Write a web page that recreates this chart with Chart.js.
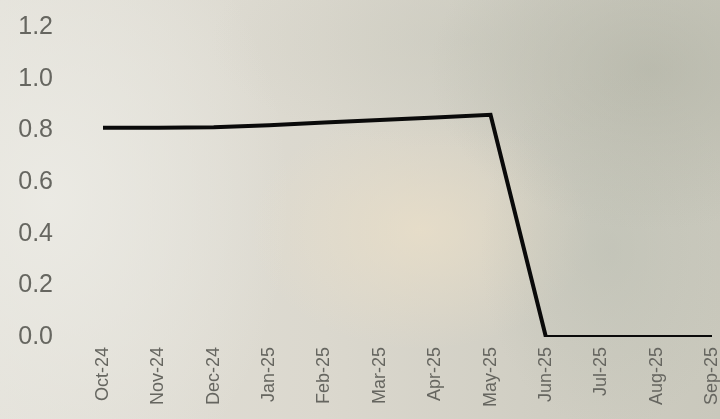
<!DOCTYPE html>
<html>
<head>
<meta charset="utf-8">
<script src="https://cdn.jsdelivr.net/npm/chart.js@4/dist/chart.umd.min.js"></script>
<style>
  html, body { margin: 0; padding: 0; }
  body {
    width: 720px; height: 419px; overflow: hidden;
    background:
      radial-gradient(ellipse 220px 160px at 650px 70px, rgba(172,174,160,0.55), rgba(172,174,160,0) 100%),
      radial-gradient(ellipse 130px 180px at 610px 250px, rgba(184,188,176,0.45), rgba(184,188,176,0) 100%),
      radial-gradient(ellipse 170px 120px at 420px 230px, rgba(236,224,200,0.7), rgba(236,224,200,0) 100%),
      radial-gradient(ellipse 260px 110px at 470px 40px, rgba(200,200,188,0.5), rgba(200,200,188,0) 100%),
      radial-gradient(ellipse 240px 320px at 50px 200px, rgba(236,235,229,0.9), rgba(236,235,229,0) 100%),
      linear-gradient(90deg, #e3e1d9 0%, #dbd8ce 45%, #d0cec3 75%, #c9c8bc 100%);
  }
  canvas { display: block; }
</style>
</head>
<body>
<canvas id="c" width="720" height="419"></canvas>
<script>
const months = ['Oct-24','Nov-24','Dec-24','Jan-25','Feb-25','Mar-25','Apr-25','May-25','Jun-25','Jul-25','Aug-25','Sep-25'];
const values = [0.81, 0.81, 0.812, 0.82, 0.83, 0.84, 0.85, 0.86, 0, 0, 0, 0];
const yTicks = [0, 0.2, 0.4, 0.6, 0.8, 1.0, 1.2];

const txt = '#666660';

new Chart(document.getElementById('c'), {
  type: 'line',
  data: {
    labels: months,
    datasets: [{
      data: values,
      borderColor: '#0a0a0a',
      borderWidth: 4,
      pointRadius: 0,
      tension: 0,
      fill: false
    }]
  },
  options: {
    responsive: false,
    animation: false,
    layout: { padding: { left: 16, right: 6, top: 27, bottom: 0 } },
    plugins: { legend: { display: false }, tooltip: { enabled: false } },
    scales: {
      x: {
        offset: false,
        grid: { display: false, drawTicks: false },
        border: { display: false },
        ticks: {
          color: txt,
          font: { family: 'Liberation Sans, Arial', size: 18 },
          minRotation: 90, maxRotation: 90,
          padding: 10,
          autoSkip: false
        },
        afterFit: (s) => { s.height = 82; s.paddingLeft = 0; s.paddingRight = 8; }
      },
      y: {
        min: 0, max: 1.2,
        grid: { display: false, drawTicks: false },
        border: { display: false },
        afterBuildTicks: (s) => { s.ticks = yTicks.map(v => ({ value: v })); },
        ticks: {
          color: txt,
          font: { family: 'Liberation Sans, Arial', size: 25 },
          padding: 50,
          callback: (v) => Number(v).toFixed(1)
        },
        afterFit: (s) => { s.width = 87; s.paddingTop = 12; s.paddingBottom = 12; }
      }
    }
  }
});
</script>
</body>
</html>
